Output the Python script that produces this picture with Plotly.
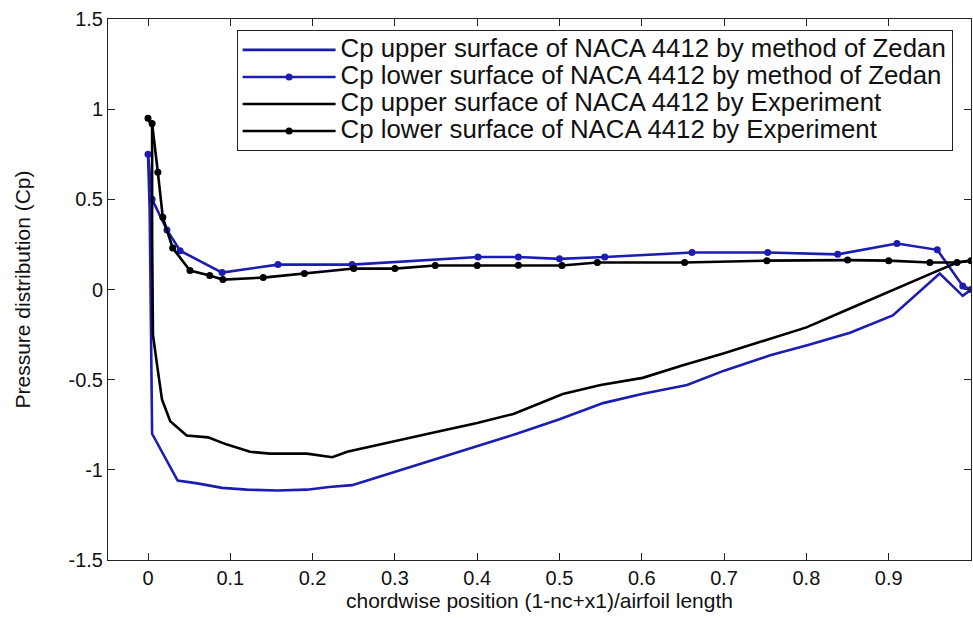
import plotly.graph_objects as go

# Blue: method of Zedan
zedan_upper_x = [0.0, 0.002, 0.003, 0.004, 0.005, 0.036, 0.06, 0.09, 0.12, 0.157, 0.193, 0.22, 0.248,
                 0.28, 0.35, 0.4, 0.448, 0.5, 0.553, 0.6, 0.655, 0.7, 0.756, 0.8, 0.853, 0.905,
                 0.962, 0.99, 1.0]
zedan_upper_y = [0.75, 0.45, 0.05, -0.25, -0.8, -1.06, -1.075, -1.1, -1.11, -1.115, -1.11, -1.095, -1.085,
                 -1.04, -0.94, -0.87, -0.8, -0.72, -0.63, -0.58, -0.53, -0.45, -0.365, -0.31, -0.24, -0.144,
                 0.089, -0.035, 0.0]

zedan_lower_x = [0.0, 0.005, 0.023, 0.039, 0.09, 0.158, 0.248, 0.401, 0.45, 0.5, 0.555, 0.661, 0.753,
                 0.838, 0.91, 0.959, 0.99, 1.0]
zedan_lower_y = [0.75, 0.5, 0.33, 0.215, 0.094, 0.138, 0.138, 0.18, 0.18, 0.17, 0.18, 0.205, 0.205,
                 0.195, 0.255, 0.22, 0.02, 0.0]

# Black: experiment
exp_upper_x = [0.0, 0.005, 0.005, 0.006, 0.012, 0.017, 0.027, 0.047, 0.073, 0.096, 0.124, 0.148, 0.193,
               0.224, 0.242, 0.28, 0.35, 0.4, 0.444, 0.504, 0.55, 0.601, 0.65, 0.699, 0.75, 0.8,
               0.853, 0.9, 0.95, 0.983, 1.0]
exp_upper_y = [0.95, 0.9, 0.3, -0.25, -0.45, -0.61, -0.73, -0.81, -0.82, -0.86, -0.9, -0.91, -0.91,
               -0.93, -0.9, -0.86, -0.79, -0.74, -0.69, -0.58, -0.53, -0.49, -0.42, -0.355, -0.28, -0.21,
               -0.105, -0.015, 0.085, 0.15, 0.16]

exp_lower_x = [0.0, 0.005, 0.012, 0.018, 0.03, 0.051, 0.075, 0.091, 0.14, 0.19, 0.25, 0.3, 0.349, 0.4,
               0.45, 0.503, 0.546, 0.652, 0.752, 0.85, 0.9, 0.95, 0.983, 1.0]
exp_lower_y = [0.95, 0.92, 0.65, 0.4, 0.23, 0.105, 0.077, 0.055, 0.066, 0.089, 0.116, 0.116, 0.133, 0.133,
               0.135, 0.133, 0.15, 0.15, 0.16, 0.163, 0.16, 0.15, 0.15, 0.16]

x_ticks = [0, 0.1, 0.2, 0.3, 0.4, 0.5, 0.6, 0.7, 0.8, 0.9, 1]
x_tick_text = ["0", "0.1", "0.2", "0.3", "0.4", "0.5", "0.6", "0.7", "0.8", "0.9", "1"]
y_ticks = [-1.5, -1, -0.5, 0, 0.5, 1, 1.5]
y_tick_text = ["-1.5", "-1", "-0.5", "0", "0.5", "1", "1.5"]

names = [
    "Cp upper surface of NACA 4412 by method of Zedan",
    "Cp lower surface of NACA 4412 by method of Zedan",
    "Cp upper surface of NACA 4412 by Experiment",
    "Cp lower surface of NACA 4412 by Experiment",
]

BLUE = "#1c1cb0"
BLACK = "#000000"
FONT = "Liberation Sans, Arial, sans-serif"


def big(s):
    return '<span style="font-size:25.8px">' + s + '</span>'


fig = go.Figure()
fig.add_trace(go.Scatter(x=zedan_upper_x, y=zedan_upper_y, mode="lines", name=big(names[0]),
                         line=dict(color=BLUE, width=2.6)))
fig.add_trace(go.Scatter(x=zedan_lower_x, y=zedan_lower_y, mode="lines+markers", name=big(names[1]),
                         line=dict(color=BLUE, width=2.6), marker=dict(color=BLUE, size=7)))
fig.add_trace(go.Scatter(x=exp_upper_x, y=exp_upper_y, mode="lines", name=big(names[2]),
                         line=dict(color=BLACK, width=2.6)))
fig.add_trace(go.Scatter(x=exp_lower_x, y=exp_lower_y, mode="lines+markers", name=big(names[3]),
                         line=dict(color=BLACK, width=2.6), marker=dict(color=BLACK, size=7)))

axis_common = dict(showline=True, linecolor="#222222", linewidth=1, mirror="ticks",
                   ticks="inside", ticklen=7, tickcolor="#222222", showgrid=False, zeroline=False,
                   tickfont=dict(family=FONT, size=20, color="#111111"))

fig.update_xaxes(range=[-0.0486, 1.0], tickvals=x_ticks, ticktext=x_tick_text,
                 title=dict(text="chordwise position (1-nc+x1)/airfoil length",
                            font=dict(family=FONT, size=21, color="#111111"), standoff=4),
                 **axis_common)
fig.update_yaxes(range=[-1.5, 1.5], tickvals=y_ticks, ticktext=y_tick_text,
                 title=dict(text="Pressure distribution (Cp)",
                            font=dict(family=FONT, size=21, color="#111111"), standoff=32),
                 **axis_common)

fig.update_layout(
    width=973, height=618,
    margin=dict(l=108, r=2, t=19, b=58),
    paper_bgcolor="white", plot_bgcolor="white",
    showlegend=True,
    legend=dict(x=0.149, y=0.979, xanchor="left", yanchor="top",
                bgcolor="white", bordercolor="#222222", borderwidth=1,
                font=dict(family=FONT, size=18.5, color="#111111"),
                itemwidth=93, tracegroupgap=0),
)

fig.write_html("out.html")
